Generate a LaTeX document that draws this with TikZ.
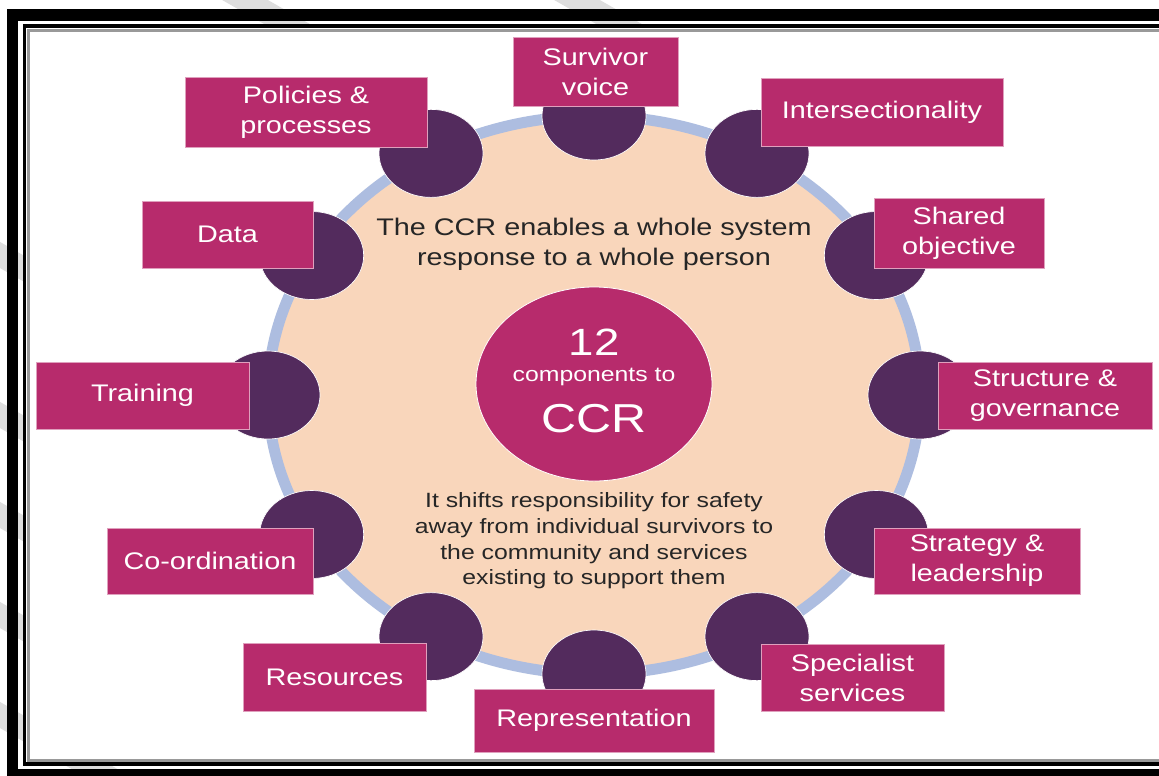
\documentclass[tikz,border=0pt]{standalone}
\usepackage{fontspec}
\setmainfont{Liberation Sans}[FakeStretch=1.2]
\definecolor{ccrbox}{HTML}{B72B6C}
\definecolor{ccrdot}{HTML}{532B5D}
\definecolor{ccrpeach}{HTML}{F9D6BB}
\definecolor{ccrring}{HTML}{ADBDE0}
\definecolor{ccrtext}{HTML}{262626}
\begin{document}
\begin{tikzpicture}[x=0.75pt,y=-0.75pt,
  box/.style={fill=ccrbox,draw=white!55!ccrbox,line width=0.6pt,text=white,align=center,inner sep=0pt,font=\fontsize{18}{22.5}\selectfont},
  wh/.style 2 args={minimum width=#1*0.75pt,minimum height=#2*0.75pt},
  blurb/.style={text=ccrtext,align=center}]
\useasboundingbox (0,0) rectangle (1159,775);
\clip (0,0) rectangle (1159,775);
% background and frame
\fill[white] (0,0) rectangle (1159,775);
\foreach \x/\y in {245/0,577/0,0/255,0/415,0/515,0/615,0/715}
  \draw[black!13,line width=17pt] (\x-175,\y-100) -- (\x+175,\y+100);
\fill[white] (26,28) rectangle (1175,762);
\draw[black!40,line width=2.25pt] (28,30) rectangle (1175,760);
\draw[line width=2.6pt] (24.3,26) rectangle (1180,764);
\draw[line width=8.5pt] (12.5,15) rectangle (1185,775);
% ring and dots
\draw[ccrring,fill=ccrpeach,line width=8.25pt] (594,395) ellipse [x radius=326,y radius=279];
\foreach \a in {0,30,...,330}
  \fill[ccrdot,draw=white,line width=0.5pt] ({594+326*cos(\a)},{395-279*sin(\a)}) ellipse [x radius=52,y radius=44];
% centre
\fill[ccrbox,draw=white,line width=0.6pt] (594,384) ellipse [x radius=118,y radius=97];
\node[text=white,anchor=base,font=\fontsize{28.5}{30}\selectfont] (twelve) at (594,355) {12};
\node[text=white,anchor=base,font=\fontsize{15.5}{18}\selectfont] (comp) at (594,381) {components to};
\node[text=white,anchor=base,font=\fontsize{30.3}{32}\selectfont] (ccr) at (594,432) {CCR};
\node[blurb,font=\fontsize{18}{22.5}\selectfont] (whole) at (594,244) {The CCR enables a whole system\\response to a whole person};
\node[blurb,font=\fontsize{15.5}{19.3}\selectfont] (shift) at (594,541) {It shifts responsibility for safety\\away from individual survivors to\\the community and services\\existing to support them};
% components
\node[box,wh={165}{69}] (voice) at (595.5,71.5) {Survivor\\voice};
\node[box,wh={242}{68}] (inter) at (882,112) {Intersectionality};
\node[box,wh={170}{70}] (shared) at (959,233) {Shared\\objective};
\node[box,wh={214}{67}] (struct) at (1045,395.5) {Structure \&\\governance};
\node[box,wh={206}{66}] (strat) at (977,561) {Strategy \&\\leadership};
\node[box,wh={183}{67}] (spec) at (852.5,677.5) {Specialist\\services};
\node[box,wh={240}{63}] (repr) at (594,720.5) {Representation};
\node[box,wh={183}{68}] (res) at (334.5,677) {Resources};
\node[box,wh={206}{66}] (coord) at (210,561) {Co-ordination};
\node[box,wh={213}{67}] (train) at (142.5,395.5) {Training};
\node[box,wh={171}{67}] (data) at (227.5,234.5) {Data};
\node[box,wh={242}{70}] (policy) at (306,112) {Policies \&\\processes};
\end{tikzpicture}
\end{document}
